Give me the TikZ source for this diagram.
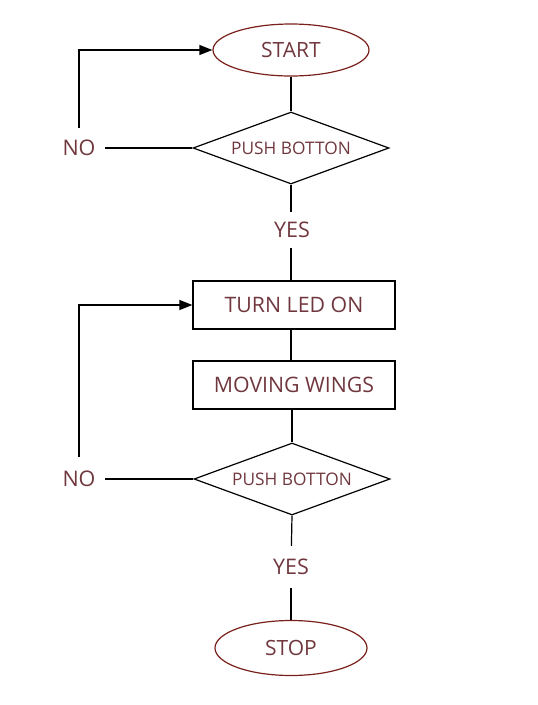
\documentclass[tikz,border=0pt]{standalone}
\usepackage{fontspec}
\setmainfont{Open Sans}
\usepackage{tikz}
\usetikzlibrary{arrows.meta}
\usetikzlibrary{shapes.geometric}
\definecolor{labeltext}{RGB}{112,56,62}
\definecolor{ovalline}{RGB}{122,32,26}

\tikzset{
	terminal/.style={draw=ovalline,ellipse,line width=1.2pt,inner sep=0pt,text=labeltext,font=\fontsize{21}{24}\selectfont},
	decision/.style={draw,diamond,line width=1.2pt,aspect=2.7,inner sep=0pt,text=labeltext,font=\fontsize{17.3}{20}\selectfont},
	process/.style={draw,rectangle,line width=1.2pt,minimum width=202pt,minimum height=48pt,text=labeltext,font=\fontsize{21.3}{24}\selectfont},
	answer/.style={text=labeltext,font=\fontsize{21.5}{24}\selectfont,inner sep=0pt,minimum width=52pt},
	link/.style={line width=1.2pt},
	loop/.style={line width=1.2pt,-{Triangle[length=13pt,width=10pt]}}
}

\begin{document}
\begin{tikzpicture}[x=1pt,y=-1pt]
	\useasboundingbox (0,0) rectangle (538,705);
	\node[terminal,minimum width=156pt,minimum height=52pt] (start) at (291,50) {START};
	\node[decision,minimum width=196pt,minimum height=72pt] (push1) at (291,148) {PUSH BOTTON};
	\node[answer,minimum height=36pt] (yes1) at (292,230) {YES};
	\node[answer,minimum height=40pt] (no1) at (79,148) {NO};
	\node[process] (led) at (294,305) {TURN LED ON};
	\node[process] (wings) at (294,385) {MOVING WINGS};
	\node[decision,minimum width=196pt,minimum height=72pt] (push2) at (292,479) {PUSH BOTTON};
	\node[answer,minimum height=44pt] (no2) at (79,479) {NO};
	\node[answer,minimum height=42pt] (yes2) at (291,567) {YES};
	\node[terminal,minimum width=152pt,minimum height=55pt] (stop) at (291,648) {STOP};

	\draw[link] (start) -- (push1);
	\draw[link] (push1.south) -- (push1.south |- yes1.north);
	\draw[link] (push1.south |- yes1.south) -- (led.north -| push1);
	\draw[link] (no1.east) -- (push1.west);
	\draw[loop] (no1.north) |- (start.west);
	\draw[link] (led.south -| push1) -- (wings.north -| push1);
	\draw[link] (wings.south -| push2) -- (push2.north);
	\draw[link] (no2.east) -- (push2.west);
	\draw[loop] (no2.north) |- (led.west);
	\draw[link] (push2.south) -- (yes2);
	\draw[link] (yes2) -- (stop);
\end{tikzpicture}
\end{document}
